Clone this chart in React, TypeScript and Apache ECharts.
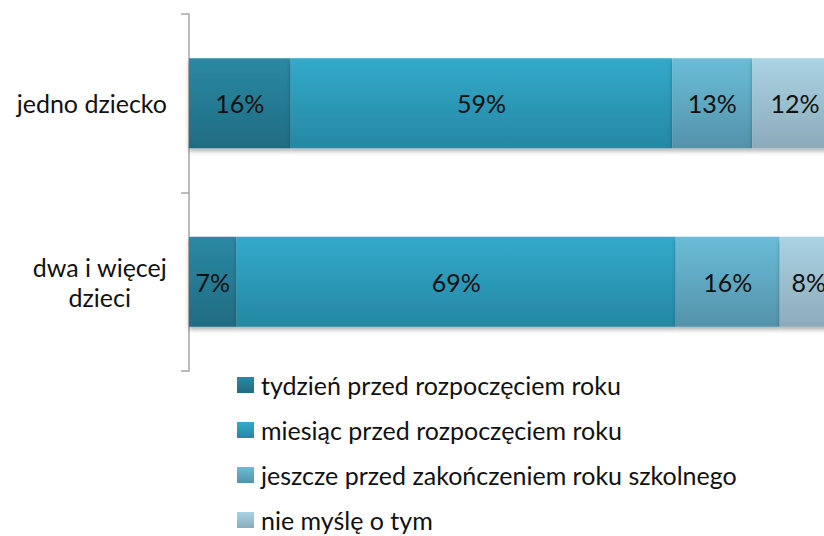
import React, { useEffect, useRef } from "react";
import * as echarts from "echarts";

const categories = ["jedno dziecko", "dwa i więcej\ndzieci"];
const seriesNames = [
  "tydzień przed rozpoczęciem roku",
  "miesiąc przed rozpoczęciem roku",
  "jeszcze przed zakończeniem roku szkolnego",
  "nie myślę o tym",
];
const tydzien = [15.9, 7.45];
const miesiac = [59.6, 68.6];
const jeszcze = [12.5, 16.25];
const nieMysle = [13.4, 9.1];
const tydzienLabels = ["16%", "7%"];
const miesiacLabels = ["59%", "69%"];
const jeszczeLabels = ["13%", "16%"];
const nieMysleLabels = ["12%", "8%"];

const gradients = [
  ["#2B89A3", "#1F6C83"],
  ["#32AACB", "#2687A3"],
  ["#6ABDD8", "#5492AA"],
  ["#AAD3E4", "#8CABBA"],
];

const FONT = "Lato";
const FS = 25;

export default function App() {
  const ref = useRef<HTMLDivElement>(null);
  useEffect(() => {
    if (!ref.current) return;
    const chart = echarts.init(ref.current, null, { renderer: "svg" });
    const values = [tydzien, miesiac, jeszcze, nieMysle];
    const labels = [tydzienLabels, miesiacLabels, jeszczeLabels, nieMysleLabels];
    chart.setOption({
      animation: false,
      textStyle: { fontFamily: FONT },
      grid: { left: 189, top: 14, height: 357, width: 704, containLabel: false },
      xAxis: { type: "value", min: 0, max: 110, show: false },
      yAxis: {
        type: "category",
        data: categories,
        inverse: true,
        axisLine: { show: true, lineStyle: { color: "#A6A6A6", width: 1.5 } },
        axisTick: { show: true, length: 8, lineStyle: { color: "#A6A6A6", width: 1.5 } },
        axisLabel: {
          margin: 22,
          fontSize: FS,
          color: "#111",
          fontFamily: FONT,
          lineHeight: 30,
          formatter: (v: string) =>
            v.split("\n").map((l) => `{c|${l}}`).join("\n"),
          rich: { c: { align: "center", fontSize: FS, lineHeight: 30, fontFamily: FONT, color: "#111" } },
        },
      },
      legend: {
        orient: "vertical",
        left: 237,
        top: 372,
        padding: 0,
        itemWidth: 17,
        itemHeight: 16,
        itemGap: 19,
        icon: "rect",
        textStyle: { fontSize: FS, color: "#111", fontFamily: FONT, lineHeight: 26, padding: [0, 0, 0, 2] },
        data: seriesNames,
      },
      series: seriesNames.map((name, i) => ({
        name,
        type: "bar",
        stack: "total",
        barWidth: "50.5%",
        data: values[i],
        itemStyle: {
          color: new echarts.graphic.LinearGradient(0, 0, 0, 1, [
            { offset: 0, color: gradients[i][0] },
            { offset: 1, color: gradients[i][1] },
          ]),
          shadowBlur: 4,
          shadowOffsetY: 3,
          shadowColor: "rgba(0,0,0,0.3)",
        },
        label: {
          show: true,
          position: "inside",
          fontSize: FS,
          color: "#111",
          fontFamily: FONT,
          formatter: (p: any) => labels[i][p.dataIndex],
        },
      })),
    });
    return () => chart.dispose();
  }, []);
  return (
    <div style={{ position: "fixed", left: 0, top: 0, width: 824, height: 536, overflow: "hidden", background: "#fff" }}>
      <div ref={ref} style={{ width: 900, height: 580 }} />
    </div>
  );
}
